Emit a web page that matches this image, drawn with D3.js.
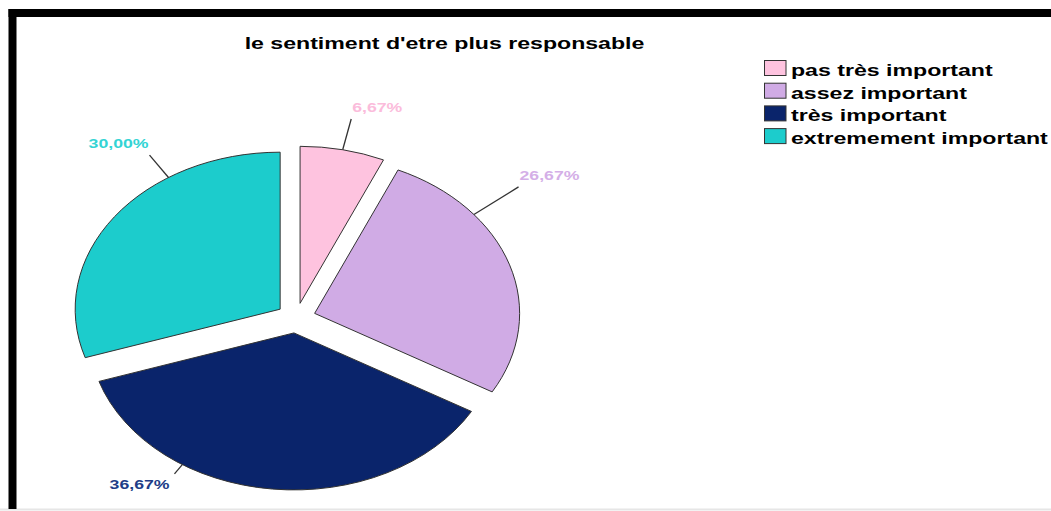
<!DOCTYPE html>
<html>
<head>
<meta charset="utf-8">
<script src="https://cdn.jsdelivr.net/npm/d3@7"></script>
<style>
  html, body { margin: 0; padding: 0; background: #fff; }
  svg { display: block; }
  text { font-family: "Liberation Sans", Arial, sans-serif; font-weight: bold; }
</style>
</head>
<body>
<svg id="chart" width="1051" height="511"></svg>
<script>
// Survey answers: how important is "le sentiment d'etre plus responsable"
const categories = ["pas très important", "assez important", "très important", "extremement important"];
const percents = [6.67, 26.67, 36.67, 30.00];
const sliceColors = ["#fec3df", "#d0abe5", "#0a246b", "#1ccccc"];
const labelColors = ["#fbbcdb", "#d4afe7", "#203c87", "#33d4d4"];
const chartTitle = "le sentiment d'etre plus responsable";

// Horizontal stretch applied to all text, and pie geometry
const sx = 1.36;
const W = 1051, H = 511;
const cx = 296, cy = 318, ry = 157, rx = 205;
const explode = 15;
// leader line angle (deg, clockwise from 12 o'clock) and outer reach per slice
const leaderAngle = [12, 51, 213, 327];
const leaderReach = [1.2, 1.28, 1.07, 1.17];

const svg = d3.select("#chart");

// frame
svg.append("rect").attr("x", 0).attr("y", 0).attr("width", W).attr("height", H).attr("fill", "#fff");
svg.append("line").attr("x1", 0).attr("x2", W).attr("y1", 509.5).attr("y2", 509.5)
  .attr("stroke", "#e6e6e6").attr("stroke-width", 2);
svg.append("rect").attr("x", 8.5).attr("y", 9).attr("width", W - 8.5).attr("height", 8).attr("fill", "#000");
svg.append("rect").attr("x", 8.5).attr("y", 9).attr("width", 8).attr("height", 500).attr("fill", "#000");

function stretchedText(g, x, y, str, anchor) {
  return g.append("text")
    .attr("transform", `translate(${x},${y}) scale(${sx},1)`)
    .attr("text-anchor", anchor || "start")
    .text(str);
}

// title
stretchedText(svg, 444.5, 49, chartTitle, "middle")
  .attr("font-size", 17).attr("fill", "#000");

// pie
const pie = d3.pie().sort(null).value(d => d)(percents);
const arc = d3.arc().innerRadius(0).outerRadius(ry);
const pieG = svg.append("g").attr("transform", `translate(${cx},${cy}) scale(${rx / ry},1)`);

pie.forEach((p, i) => {
  const mid = (p.startAngle + p.endAngle) / 2;
  const ox = Math.sin(mid) * explode, oy = -Math.cos(mid) * explode;
  pieG.append("path")
    .attr("d", arc(p))
    .attr("transform", `translate(${ox},${oy})`)
    .attr("fill", sliceColors[i])
    .attr("stroke", "#333")
    .attr("stroke-width", 1)
    .attr("vector-effect", "non-scaling-stroke");
});

// percentage labels with leader lines
const fmt = v => d3.format(".2f")(v).replace(".", ",") + "%";
pie.forEach((p, i) => {
  const mid = (p.startAngle + p.endAngle) / 2;
  const ax = cx + Math.sin(mid) * explode * rx / ry;
  const ay = cy - Math.cos(mid) * explode;
  const a = leaderAngle[i] * Math.PI / 180;
  const x1 = ax + Math.sin(a) * rx, y1 = ay - Math.cos(a) * ry;
  const k = leaderReach[i];
  const x2 = ax + Math.sin(a) * rx * k, y2 = ay - Math.cos(a) * ry * k;
  svg.append("line")
    .attr("x1", x1).attr("y1", y1).attr("x2", x2).attr("y2", y2)
    .attr("stroke", "#333").attr("stroke-width", 1.3);
  const right = Math.sin(a) >= 0;
  const below = Math.cos(a) < -0.6;
  const tx = right ? x2 + 1 : x2 - (below ? 5 : 1);
  const ty = below ? y2 + 15 : y2 - 7;
  stretchedText(svg, tx, ty, fmt(p.data), right ? "start" : "end")
    .attr("font-size", 13).attr("fill", labelColors[i]);
});

// legend
const legend = svg.append("g");
categories.forEach((c, i) => {
  const base = 76 + i * 22.7;
  legend.append("rect")
    .attr("x", 764.5).attr("y", base - 15.5).attr("width", 21.5).attr("height", 15)
    .attr("fill", sliceColors[i]).attr("stroke", "#333").attr("stroke-width", 1);
  stretchedText(legend, 791, base, c).attr("font-size", 17).attr("fill", "#000");
});
</script>
</body>
</html>
